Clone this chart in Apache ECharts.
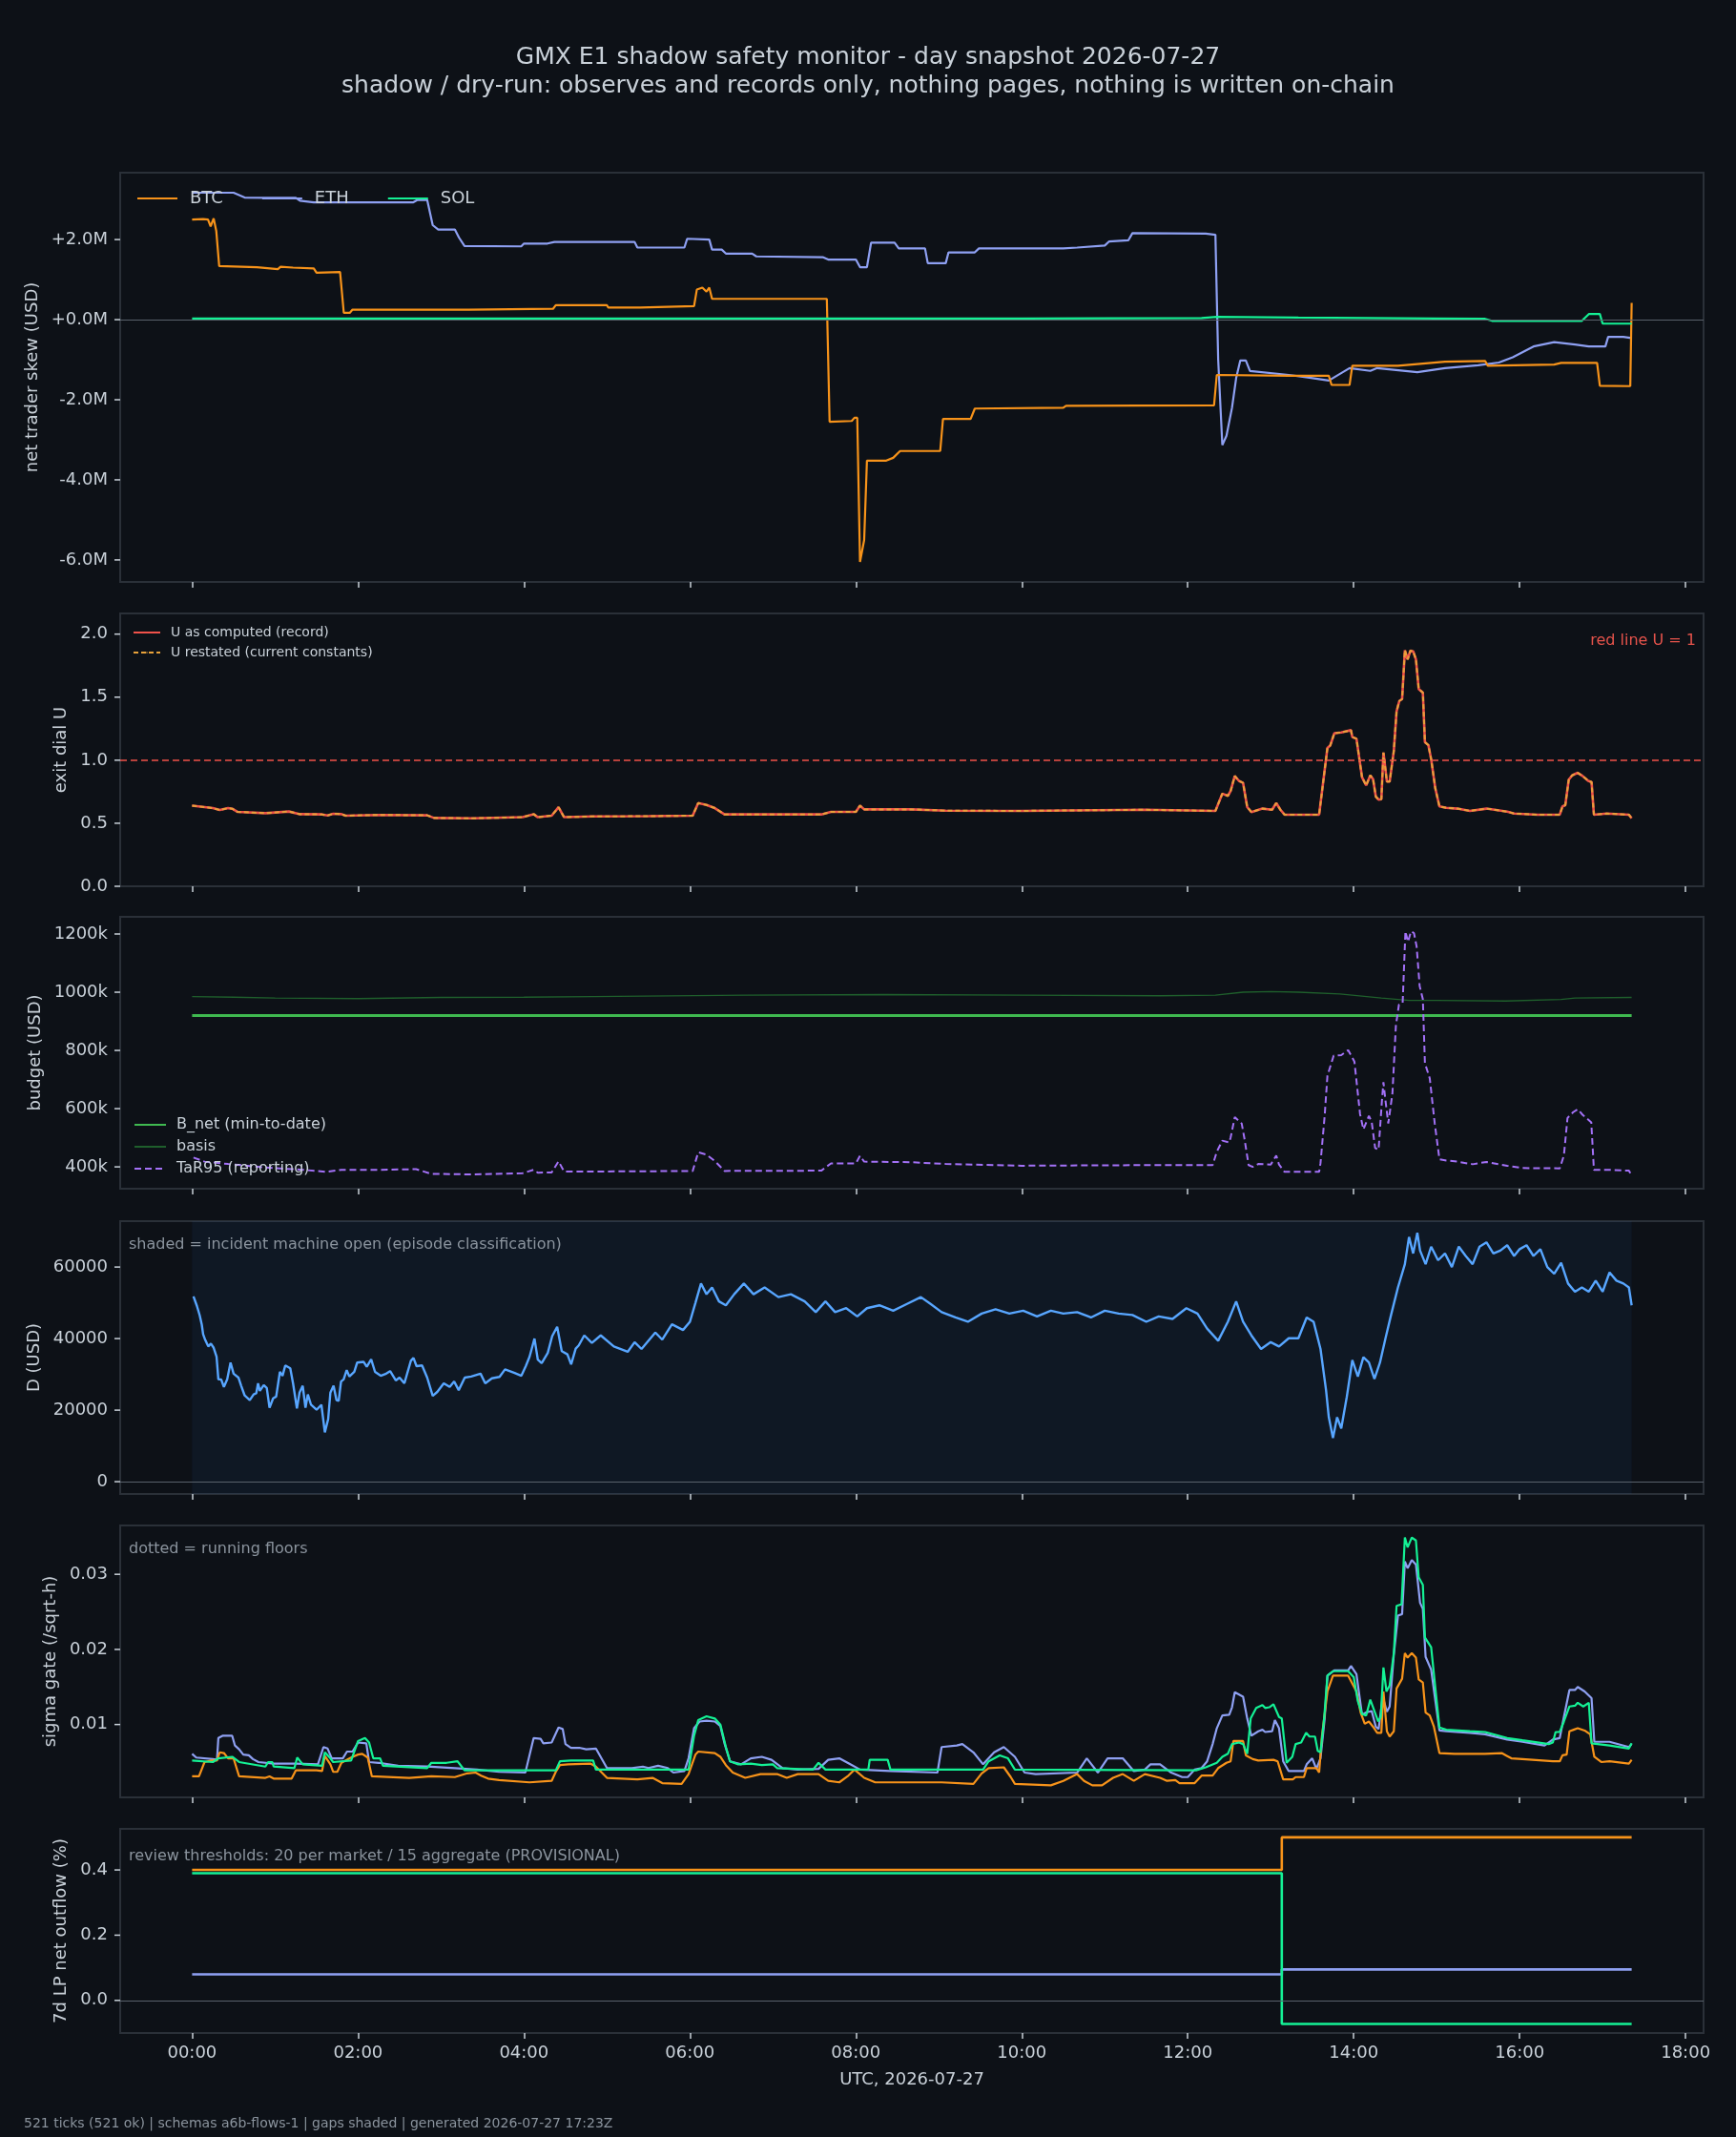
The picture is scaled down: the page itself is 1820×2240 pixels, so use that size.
<!DOCTYPE html>
<html>
<head>
<meta charset="utf-8">
<title>GMX E1 shadow safety monitor</title>
<script src="https://cdn.jsdelivr.net/npm/echarts@6/dist/echarts.min.js"></script>
<style>
  html, body { margin: 0; padding: 0; background: #0d1117; }
  #main { width: 1820px; height: 2240px; }
</style>
</head>
<body>
<div id="main"></div>
<script>
// x is minutes since 00:00 UTC (one tick every 2 min, 521 ticks)
var hourTicks = [0, 120, 240, 360, 480, 600, 720, 840, 960, 1080];

// panel 1 - net trader skew, USD millions
var btcSkew = [[0,2.5],[8,2.51],[11.5,2.5],[13.4,2.33],[15.6,2.53],[17.5,2.21],[19.6,1.34],[47,1.31],[62,1.26],[64,1.32],[73,1.3],[88,1.28],[90,1.17],[107,1.19],[109.7,0.17],[114,0.17],[116,0.25],[200,0.25],[261,0.27],[263,0.36],[300,0.36],[301,0.3],[324,0.3],[325,0.34],[363,0.34],[365,0.75],[369,0.8],[372,0.7],[374,0.8],[376,0.52],[459,0.52],[461,-2.55],[477,-2.53],[479,-2.45],[481,-2.45],[483,-6.05],[486,-5.5],[488,-3.52],[502,-3.52],[507,-3.45],[512,-3.28],[541,-3.28],[543,-2.48],[563,-2.48],[566,-2.22],[630,-2.2],[632,-2.15],[739,-2.14],[741,-1.38],[793,-1.4],[822,-1.4],[824,-1.63],[837,-1.63],[839,-1.15],[872,-1.15],[896,-1.08],[906,-1.05],[935,-1.03],[937,-1.15],[985,-1.12],[990,-1.08],[1016,-1.08],[1018,-1.65],[1040,-1.66],[1041,0.42]];
var ethSkew = [[0,3.17],[30,3.17],[38,3.05],[60,3.04],[75,3.04],[78,2.97],[88,2.93],[160,2.93],[163,2.99],[170,2.99],[174,2.36],[178,2.25],[190,2.25],[193,2.05],[197,1.84],[238,1.83],[240,1.9],[257,1.9],[262,1.94],[320,1.94],[322,1.8],[356,1.8],[358,2.02],[374,2.0],[376,1.75],[383,1.75],[386,1.65],[405,1.65],[408,1.58],[456,1.56],[460,1.5],[480,1.5],[483,1.31],[488,1.31],[491,1.92],[508,1.92],[511,1.78],[530,1.78],[532,1.41],[545,1.41],[547,1.68],[566,1.68],[569,1.78],[630,1.78],[640,1.8],[660,1.85],[663,1.95],[677,1.98],[680,2.16],[733,2.15],[740,2.12],[742,-1.0],[745,-3.13],[748,-2.9],[752,-2.2],[755,-1.46],[758,-1.02],[762,-1.02],[765,-1.28],[793,-1.38],[808,-1.45],[822,-1.52],[837,-1.21],[852,-1.28],[857,-1.21],[886,-1.31],[906,-1.21],[930,-1.14],[945,-1.07],[955,-0.94],[970,-0.67],[985,-0.56],[1000,-0.62],[1010,-0.67],[1022,-0.67],[1024,-0.43],[1035,-0.43],[1041,-0.46]];
var solSkew = [[0,0.03],[300,0.03],[600,0.03],[730,0.04],[741,0.07],[800,0.05],[900,0.03],[935,0.02],[940,-0.03],[1005,-0.03],[1010,0.14],[1018,0.14],[1020,-0.1],[1041,-0.1]];

// panel 2 - exit dial U
var uRecord = [[0,0.64],[15,0.62],[20,0.605],[26,0.62],[29,0.615],[33,0.59],[53,0.58],[70,0.593],[78,0.572],[94,0.57],[98,0.562],[102,0.575],[108,0.572],[111,0.56],[135,0.566],[170,0.563],[175,0.542],[203,0.539],[239,0.548],[247,0.572],[250,0.548],[260,0.56],[265,0.627],[269,0.548],[290,0.554],[330,0.556],[362,0.56],[366,0.66],[372,0.645],[378,0.62],[385,0.57],[455,0.57],[462,0.59],[480,0.59],[483,0.64],[486,0.61],[520,0.61],[545,0.6],[600,0.598],[689,0.607],[740,0.598],[745,0.735],[749,0.717],[751,0.756],[754,0.875],[757,0.836],[760,0.82],[763,0.628],[766,0.589],[774,0.616],[781,0.607],[784,0.66],[787,0.607],[790,0.568],[815,0.568],[816,0.565],[821,1.098],[823,1.116],[826,1.214],[831,1.22],[838,1.238],[839,1.184],[842,1.17],[846,0.866],[849,0.8],[852,0.88],[854,0.85],[856,0.711],[858,0.687],[860,0.69],[861.5,1.06],[864,0.83],[866,0.83],[869,1.074],[871,1.387],[873,1.47],[875,1.485],[877,1.872],[879,1.8],[881,1.869],[883,1.863],[885,1.8],[887,1.565],[890,1.536],[891.5,1.143],[894,1.119],[896,1.009],[899,0.777],[902,0.634],[907,0.622],[915,0.616],[924,0.598],[936,0.616],[951,0.592],[956,0.577],[973,0.568],[989,0.568],[991,0.634],[993,0.643],[995.5,0.845],[998,0.88],[1002,0.9],[1005.5,0.875],[1009.6,0.836],[1012,0.827],[1013.7,0.568],[1023,0.577],[1039,0.568],[1041,0.539]];
var uRestated = uRecord;

// panel 3 - budget, thousands USD
var bNet = [[0,920],[1041,920]];
var basis = [[0,985],[30,983],[60,980],[120,978],[180,982],[240,983],[290,985],[400,990],[500,992],[600,990],[700,988],[740,990],[760,1000],[780,1002],[800,1000],[830,994],[860,980],[880,972],[900,972],[950,970],[990,975],[1000,980],[1041,982]];
var tar95 = [[1,432],[9,418],[26,410],[53,398],[80,390],[97,383],[108,390],[135,390],[162,392],[173,376],[203,374],[239,378],[247,390],[250,380],[260,381],[265,419],[269,384],[288,384],[330,385],[362,386],[366,450],[372,442],[378,420],[385,386],[455,387],[462,412],[480,412],[483,438],[486,418],[520,416],[545,410],[600,404],[689,406],[738,406],[741,452],[745,490],[750,484],[751,501],[754,571],[759,549],[761,497],[764,406],[767,400],[771,410],[780,408],[784,439],[786,408],[790,383],[815,383],[816,413],[819,575],[821,713],[825.5,782],[831,784],[836,801],[840.5,762],[844.6,581],[847,529],[851,575],[853,555],[855.5,465],[858,459],[860.4,627],[861.5,691],[863,627],[865,549],[868,652],[870.5,885],[872.7,957],[875.4,963],[877.4,1209],[879.3,1173],[881.4,1209],[883.6,1203],[885.5,1157],[887.7,1021],[890,976],[891.5,756],[895,704],[898.6,549],[902,426],[907,422],[915,418],[926,409],[936,417],[951,404],[962,396],[989,395],[992,439],[994.6,568],[998.7,588],[1002,598],[1005.5,579],[1011.8,553],[1013.7,390],[1025,390],[1039,387],[1041,371]];

// panel 4 - D, USD
var dValue = [[1,51800],[3.5,49100],[5.5,46500],[7,43900],[8,41200],[9.5,39600],[11.7,37800],[13.6,38600],[15.5,37500],[17.7,34900],[19,28600],[21,28600],[23,26500],[25.4,28600],[27.8,33300],[30,30200],[33.5,29100],[35.5,26800],[38,24100],[41.7,22800],[44.5,24400],[46.4,24700],[47.7,27500],[49,25400],[51.8,27000],[54,26200],[56,20700],[58.6,23300],[60.8,23800],[63.5,30700],[65.4,29600],[67.4,32500],[71,31700],[73,27500],[75.8,20500],[77.7,24900],[80,26800],[82,20700],[83.7,24400],[86,21500],[90,20100],[93.5,21500],[96,13800],[98.4,17500],[100,24900],[102.3,26800],[104.4,22800],[106,22600],[107.7,28000],[109.6,28600],[111.8,31200],[113.7,29400],[117.3,30700],[119.4,33300],[124,33500],[126.3,32100],[129.5,34200],[132.3,30700],[136.4,29600],[140.4,30200],[143.2,30900],[147.3,28300],[150,29100],[153.5,27500],[158.2,33800],[160.1,34600],[162.3,32300],[166.3,32500],[170,29100],[174,24000],[177.3,25100],[182,27500],[186.3,26500],[189.5,28000],[192.8,25600],[197.2,29100],[201.8,29400],[208.6,30200],[212,27500],[216.8,28900],[222.3,29300],[226.3,31400],[233.2,30400],[238.1,29600],[241.3,32300],[244,34900],[247.6,40000],[250,34100],[252.8,33100],[257.2,36000],[260.4,40700],[264,43300],[267.3,36500],[271.4,35600],[274.1,32800],[277.4,37200],[279.6,38100],[283.6,40900],[289.1,38800],[295.5,40900],[305,37800],[315,36300],[320,39000],[325,37100],[335,41700],[340,39700],[347,44000],[355,42400],[360,44700],[364,50000],[368,55400],[372,52400],[376,54300],[381,50400],[386,49300],[392,52400],[399,55400],[406,52400],[414,54300],[424,51600],[433,52400],[443,50400],[451,47400],[458,50400],[465,47400],[473,48500],[481,46200],[488,48500],[497,49300],[507,47800],[517,49700],[527,51600],[534,49700],[542,47400],[552,45900],[561,44700],[571,47000],[581,48200],[591,47000],[601,47800],[611,46200],[621,47800],[630,47000],[640,47400],[650,45900],[660,47800],[670,47000],[680,46600],[690,44700],[699,46200],[709,45500],[719,48500],[727,47000],[734,42800],[742,39400],[749,44700],[755,50400],[760,44700],[766,40900],[773,37100],[780,39000],[786,37800],[793,40100],[800,40100],[806,45900],[811,44700],[816,37100],[820,25600],[822,18000],[825,12200],[828,18000],[831,14900],[835,23700],[839,34000],[843,29400],[847,34800],[851,33300],[855,28700],[859,33300],[863,40100],[867,46600],[872,54300],[877,60800],[880,68400],[883,63800],[886,69600],[888,64600],[892,60800],[896,65700],[901,61900],[906,63800],[911,60000],[916,65700],[921,63100],[926,60800],[931,65700],[936,66900],[941,63800],[946,64600],[951,66100],[956,63100],[960,65000],[965,66100],[970,63100],[975,65000],[980,60000],[985,58100],[990,61200],[995,55400],[1000,53100],[1005,54300],[1010,53100],[1015,56200],[1020,53100],[1025,58500],[1030,56200],[1035,55400],[1039,54300],[1041,49300]];
var incidentOpen = [0, 1041];

// panel 5 - sigma gate (/sqrt-h)
var sigBtc = [[0,0.0031],[5,0.0031],[9,0.005],[14,0.0052],[18,0.0052],[20,0.0063],[23,0.0062],[26,0.0055],[30,0.0055],[34,0.0031],[53,0.0029],[56,0.0031],[59,0.0028],[72,0.0028],[75,0.0039],[90,0.0039],[94,0.0038],[96,0.0058],[100,0.0047],[102,0.0037],[105,0.0037],[108,0.0049],[115,0.0056],[120,0.006],[123,0.0061],[127,0.0056],[130,0.0031],[157,0.0029],[173,0.0031],[190,0.003],[199,0.0035],[205,0.0036],[209,0.0032],[214,0.0028],[222,0.0026],[244,0.0023],[260,0.0025],[263,0.0037],[266,0.0046],[272,0.0047],[288,0.0048],[292,0.0044],[300,0.0029],[322,0.0027],[333,0.0029],[340,0.0022],[354,0.0021],[359,0.0034],[364,0.006],[366,0.0064],[378,0.0062],[382,0.0057],[386,0.0046],[391,0.0036],[400,0.0029],[411,0.0034],[423,0.0034],[430,0.0029],[438,0.0034],[453,0.0034],[460,0.0025],[468,0.0023],[474,0.0031],[479,0.004],[486,0.0029],[494,0.0023],[542,0.0023],[565,0.0021],[571,0.0035],[576,0.0042],[587,0.0043],[592,0.003],[595,0.0021],[621,0.0019],[630,0.0025],[640,0.0034],[645,0.0025],[651,0.0019],[658,0.0019],[666,0.0029],[673,0.0034],[681,0.0025],[689,0.0034],[700,0.0029],[705,0.0025],[711,0.0026],[714,0.0022],[725,0.0022],[730,0.0032],[738,0.0032],[742,0.0042],[748,0.0049],[751,0.0051],[753,0.0078],[760,0.0078],[762,0.0059],[767,0.0054],[771,0.0052],[782,0.0053],[785,0.0051],[789,0.0027],[796,0.0027],[798,0.003],[804,0.003],[806,0.0042],[813,0.0042],[815,0.0036],[817,0.0084],[821,0.0144],[825,0.0165],[836,0.0165],[842,0.0144],[845,0.0116],[848,0.0101],[851,0.0104],[854,0.0097],[857,0.0089],[860,0.0089],[861.5,0.0144],[864,0.0091],[866,0.0084],[869,0.0091],[871,0.0148],[875,0.0161],[877,0.0195],[879,0.0189],[882,0.0195],[885,0.0189],[887,0.016],[890,0.0156],[892,0.0116],[895,0.0112],[898,0.0097],[902,0.0062],[913,0.0061],[935,0.0061],[947,0.0062],[951,0.0058],[954,0.0055],[962,0.0054],[984,0.0051],[989,0.0051],[991,0.0059],[994,0.006],[996,0.0091],[999,0.0093],[1002,0.0095],[1007,0.0092],[1011,0.0087],[1014,0.0057],[1019,0.005],[1025,0.0051],[1039,0.0048],[1041,0.0053]];
var sigEth = [[0,0.0061],[3,0.0056],[15,0.0054],[18,0.0053],[19,0.0082],[22,0.0085],[29,0.0085],[31,0.0072],[34,0.0067],[37,0.006],[41,0.0059],[44,0.0054],[48,0.005],[59,0.0048],[75,0.0048],[91,0.0047],[95,0.007],[98,0.0068],[101,0.0055],[109,0.0055],[112,0.0064],[116,0.0064],[120,0.0076],[126,0.0075],[128,0.005],[135,0.0049],[149,0.0045],[170,0.0044],[190,0.0042],[206,0.004],[222,0.0037],[241,0.0036],[247,0.0082],[252,0.0081],[254,0.0075],[260,0.0076],[265,0.0096],[268,0.0094],[270,0.0074],[274,0.0069],[280,0.0069],[285,0.0067],[292,0.0068],[300,0.0042],[318,0.0042],[326,0.0044],[330,0.0042],[337,0.0045],[344,0.0042],[348,0.0036],[356,0.0038],[359,0.0055],[363,0.0095],[367,0.0104],[372,0.0105],[378,0.0104],[382,0.0098],[385,0.0075],[389,0.0051],[397,0.0047],[404,0.0055],[412,0.0057],[419,0.0053],[427,0.0042],[438,0.004],[453,0.0041],[460,0.0053],[468,0.0055],[475,0.0048],[483,0.004],[505,0.0038],[539,0.0036],[542,0.007],[553,0.0072],[557,0.0074],[565,0.0063],[572,0.0047],[580,0.0063],[587,0.007],[595,0.0057],[602,0.0036],[610,0.0034],[640,0.0036],[647,0.0055],[655,0.0036],[662,0.0055],[673,0.0055],[681,0.0038],[689,0.004],[693,0.0047],[700,0.0047],[708,0.0036],[716,0.003],[720,0.003],[725,0.004],[730,0.0042],[734,0.0051],[738,0.0074],[741,0.0095],[745,0.0112],[750,0.0113],[752,0.0123],[754,0.0143],[760,0.0137],[763,0.0108],[766,0.0085],[771,0.0091],[774,0.0093],[776,0.009],[781,0.0091],[783,0.0106],[786,0.0095],[789,0.0051],[793,0.0038],[804,0.0038],[806,0.0047],[810,0.0055],[813,0.0041],[816,0.0055],[819,0.0108],[821,0.0165],[826,0.0172],[836,0.0172],[838,0.0178],[842,0.0167],[846,0.0113],[849,0.0116],[853,0.0118],[856,0.0097],[858,0.0094],[861,0.0137],[864,0.0117],[866,0.0124],[869,0.0193],[872,0.0245],[875,0.0247],[877,0.0317],[879,0.0308],[882,0.0319],[885,0.0313],[888,0.0262],[890,0.0254],[892,0.019],[896,0.0173],[902,0.0092],[907,0.0091],[924,0.0089],[935,0.0087],[951,0.008],[962,0.0077],[978,0.0072],[984,0.008],[989,0.0082],[992,0.011],[996,0.0146],[1000,0.0146],[1002,0.015],[1007,0.0144],[1012,0.0135],[1014,0.0077],[1025,0.0077],[1039,0.007],[1041,0.0074]];
var sigSol = [[0,0.0052],[15,0.005],[19,0.0055],[29,0.0057],[34,0.005],[53,0.0044],[55,0.005],[58,0.005],[59,0.0044],[74,0.0042],[76,0.0056],[80,0.0047],[94,0.0045],[96,0.0063],[100,0.0055],[102,0.005],[115,0.0052],[120,0.0078],[125,0.0082],[128,0.0076],[131,0.0055],[136,0.0055],[138,0.0045],[170,0.0042],[173,0.0049],[184,0.0049],[192,0.0051],[197,0.0039],[263,0.0039],[266,0.0051],[274,0.0052],[290,0.0052],[292,0.004],[359,0.004],[363,0.0085],[366,0.0106],[372,0.0111],[378,0.0108],[382,0.01],[386,0.007],[389,0.0051],[395,0.0047],[404,0.0048],[412,0.0046],[420,0.0047],[423,0.0042],[449,0.004],[453,0.0049],[458,0.004],[489,0.004],[490,0.0053],[503,0.0053],[505,0.004],[572,0.004],[576,0.0051],[584,0.0059],[590,0.0055],[595,0.004],[726,0.0039],[733,0.0043],[741,0.0049],[745,0.0057],[749,0.0061],[752,0.0074],[757,0.0076],[760,0.0074],[763,0.0061],[765.5,0.0108],[769.5,0.0122],[774,0.0126],[776,0.0122],[779,0.0123],[782,0.0127],[786,0.011],[788,0.0108],[791.5,0.0049],[795.6,0.0057],[798,0.0074],[802,0.0076],[805.6,0.0089],[808,0.0084],[812,0.0084],[814,0.0065],[816,0.0063],[818.7,0.011],[821,0.0165],[825,0.0171],[836,0.0171],[840,0.0163],[843,0.0131],[846,0.0114],[849,0.0112],[852,0.0133],[854,0.0123],[857.7,0.0104],[859.6,0.011],[861.5,0.0176],[863.7,0.0144],[866,0.0152],[869,0.0195],[871,0.0258],[874.6,0.026],[877,0.0349],[879,0.0336],[882,0.0349],[885,0.0345],[887,0.0296],[890,0.0286],[891.5,0.0216],[896,0.0203],[902,0.0096],[907,0.0093],[924,0.0091],[935,0.009],[951,0.0082],[962,0.0079],[981,0.0074],[984,0.0076],[986,0.009],[989,0.009],[992,0.0104],[996,0.0124],[1000,0.0125],[1002,0.0129],[1006,0.0124],[1010,0.0129],[1012,0.0075],[1025,0.0072],[1039,0.0068],[1041,0.0075]];
var sigFloors = { BTC: 0.00184, ETH: 0.00285, SOL: 0.00384 };

// panel 6 - 7d LP net outflow (%)
var lpBtc = [[0,0.4],[788,0.4],[788,0.5],[1041,0.5]];
var lpEth = [[0,0.08],[788,0.08],[788,0.095],[1041,0.095]];
var lpSol = [[0,0.39],[788,0.39],[788,-0.072],[1041,-0.072]];

var C = {
  bg: '#0d1117', text: '#c9d1d9', dim: '#8b949e', border: '#2a3038', zero: '#59616b',
  btc: '#f7931a', eth: '#8ea0f2', sol: '#14f195',
  uRed: '#f0524a', uOrange: '#e8a23a', bnet: '#3fb950', basis: '#1f5f2c', tar: '#a371f7', d: '#58a6ff'
};
var FONT = 'DejaVu Sans';

var panels = [
  { top: 181, height: 429 },
  { top: 643, height: 286 },
  { top: 961, height: 285 },
  { top: 1280, height: 286 },
  { top: 1599, height: 285 },
  { top: 1917, height: 214 }
];

function hhmm(v) {
  var h = Math.floor(v / 60);
  return (h < 10 ? '0' : '') + h + ':00';
}

var grids = panels.map(function (p) {
  return {
    left: 126, right: 34, top: p.top, height: p.height,
    show: true, borderColor: C.border, borderWidth: 2, backgroundColor: C.bg
  };
});

var xAxes = panels.map(function (p, i) {
  var last = i === panels.length - 1;
  return {
    gridIndex: i, type: 'value', min: -52, max: 1093, position: 'bottom',
    axisLine: { show: false, onZero: false }, splitLine: { show: false },
    axisTick: { show: true, customValues: hourTicks, length: 6, lineStyle: { color: C.text, width: 1.5 } },
    axisLabel: { show: last, customValues: hourTicks, formatter: hhmm, color: C.text, fontSize: 18, fontFamily: FONT, margin: 12 },
    name: last ? 'UTC, 2026-07-27' : '', nameLocation: 'middle', nameGap: 40,
    nameTextStyle: { color: C.text, fontSize: 18, fontFamily: FONT }
  };
});

// y tick marks are drawn as the last block of each tick label, so they sit on the axis
function yAxisFor(i, min, max, ticks, fmt, name, gap) {
  return {
    gridIndex: i, type: 'value', min: min, max: max, position: 'left',
    axisLine: { show: false, onZero: false }, splitLine: { show: false },
    axisTick: { show: false },
    axisLabel: {
      customValues: ticks, margin: 0,
      formatter: function (v) { return '{v|' + fmt(v) + '}{g| }{t| }'; },
      rich: {
        v: { color: C.text, fontSize: 18, fontFamily: FONT },
        g: { width: 7, fontSize: 18 },
        t: { width: 6, height: 1.5, backgroundColor: C.text, verticalAlign: 'middle' }
      }
    },
    name: name, nameLocation: 'middle', nameGap: gap,
    nameTextStyle: { color: C.text, fontSize: 18, fontFamily: FONT }
  };
}

var yAxes = [
  yAxisFor(0, -6.55, 3.67, [-6, -4, -2, 0, 2], function (v) { return (v >= 0 ? '+' : '') + v.toFixed(1) + 'M'; }, 'net trader skew (USD)', 81),
  yAxisFor(1, 0, 2.164, [0, 0.5, 1, 1.5, 2], function (v) { return v.toFixed(1); }, 'exit dial U', 51),
  yAxisFor(2, 325, 1259, [400, 600, 800, 1000, 1200], function (v) { return v + 'k'; }, 'budget (USD)', 79),
  yAxisFor(3, -3440, 72830, [0, 20000, 40000, 60000], function (v) { return String(v); }, 'D (USD)', 81),
  yAxisFor(4, 0.0003, 0.0365, [0.01, 0.02, 0.03], function (v) { return v.toFixed(2); }, 'sigma gate (/sqrt-h)', 62),
  yAxisFor(5, -0.1, 0.526, [0, 0.2, 0.4], function (v) { return v.toFixed(1); }, '7d LP net outflow (%)', 51)
];

function line(name, data, gi, color, width, extra) {
  var s = {
    name: name, type: 'line', xAxisIndex: gi, yAxisIndex: gi, data: data,
    symbol: 'none', showSymbol: false, silent: true,
    lineStyle: { color: color, width: width }, itemStyle: { color: color }
  };
  for (var k in extra) s[k] = extra[k];
  return s;
}

function zeroLine() {
  return { silent: true, symbol: 'none', label: { show: false },
    lineStyle: { color: C.zero, width: 1.2, type: 'solid' }, data: [{ yAxis: 0 }] };
}

function floorLine(v, color) {
  return { yAxis: v, lineStyle: { color: color, width: 1.3, type: [1.5, 3] } };
}

var series = [
  line('BTC', btcSkew, 0, C.btc, 2.2, { markLine: zeroLine(), z: 3 }),
  line('ETH', ethSkew, 0, C.eth, 2.2, { z: 2 }),
  line('SOL', solSkew, 0, C.sol, 2.2, { z: 4 }),

  line('U as computed (record)', uRecord, 1, C.uRed, 2.6, {
    markLine: { silent: true, symbol: 'none', label: { show: false },
      lineStyle: { color: C.uRed, width: 1.6, type: [7, 4] }, data: [{ yAxis: 1 }] }
  }),
  line('U restated (current constants)', uRestated, 1, C.uOrange, 2, {
    lineStyle: { color: C.uOrange, width: 2, type: [5, 3] }
  }),

  line('B_net (min-to-date)', bNet, 2, C.bnet, 3),
  line('basis', basis, 2, C.basis, 1.4),
  line('TaR95 (reporting)', tar95, 2, C.tar, 2, { lineStyle: { color: C.tar, width: 2, type: [7, 4] } }),

  line('D', dValue, 3, C.d, 2.4, {
    markLine: zeroLine(),
    markArea: { silent: true, itemStyle: { color: 'rgba(56,139,253,0.06)' },
      data: [[{ xAxis: incidentOpen[0] }, { xAxis: incidentOpen[1] }]] }
  }),

  line('ETH', sigEth, 4, C.eth, 2.2),
  line('BTC', sigBtc, 4, C.btc, 2.2),
  line('SOL', sigSol, 4, C.sol, 2.2, {
    markLine: { silent: true, symbol: 'none', label: { show: false },
      data: [floorLine(sigFloors.SOL, C.sol), floorLine(sigFloors.ETH, C.eth), floorLine(sigFloors.BTC, C.btc)] }
  }),

  line('BTC', lpBtc, 5, C.btc, 2.6, { markLine: zeroLine() }),
  line('ETH', lpEth, 5, C.eth, 2.6),
  line('SOL', lpSol, 5, C.sol, 2.6)
];

function note(text, pos, color, size) {
  var t = { text: text, padding: 0, textStyle: { color: color, fontSize: size || 16, fontWeight: 'normal', fontFamily: FONT } };
  for (var k in pos) t[k] = pos[k];
  return t;
}

var titles = [
  note('GMX E1 shadow safety monitor - day snapshot 2026-07-27', { left: 'center', top: 48 }, C.text, 25),
  note('shadow / dry-run: observes and records only, nothing pages, nothing is written on-chain', { left: 'center', top: 78 }, C.text, 25),
  note('red line U = 1', { right: 42, top: 664 }, '#e5534b', 16),
  note('shaded = incident machine open (episode classification)', { left: 135, top: 1297 }, C.dim),
  note('dotted = running floors', { left: 135, top: 1616 }, C.dim),
  note('review thresholds: 20 per market / 15 aggregate (PROVISIONAL)', { left: 135, top: 1938 }, C.dim),
  note('521 ticks (521 ok) | schemas a6b-flows-1 | gaps shaded | generated 2026-07-27 17:23Z', { left: 25, top: 2219 }, C.dim, 14)
];

var legends = [
  { data: ['BTC', 'ETH', 'SOL'], left: 143, top: 199, padding: 0, orient: 'horizontal', itemWidth: 42, itemHeight: 2, itemGap: 40,
    textStyle: { color: C.text, fontSize: 18, fontFamily: FONT, padding: [0, 0, 0, 8] }, selectedMode: false },
  { data: ['U as computed (record)', 'U restated (current constants)'], left: 139, top: 656, padding: 0, orient: 'vertical',
    itemWidth: 28, itemHeight: 2, itemGap: 7,
    textStyle: { color: C.text, fontSize: 14, fontFamily: FONT, padding: [0, 0, 0, 6] }, selectedMode: false },
  { data: ['B_net (min-to-date)', 'basis', 'TaR95 (reporting)'], left: 140, top: 1171, padding: 0, orient: 'vertical',
    itemWidth: 33, itemHeight: 2, itemGap: 7,
    textStyle: { color: C.text, fontSize: 16, fontFamily: FONT, padding: [0, 0, 0, 6] }, selectedMode: false }
];

var myChart = echarts.init(document.getElementById('main'), null, { renderer: 'canvas' });
myChart.setOption({
  backgroundColor: C.bg,
  animation: false,
  title: titles,
  legend: legends,
  grid: grids,
  xAxis: xAxes,
  yAxis: yAxes,
  series: series
});
</script>
</body>
</html>
